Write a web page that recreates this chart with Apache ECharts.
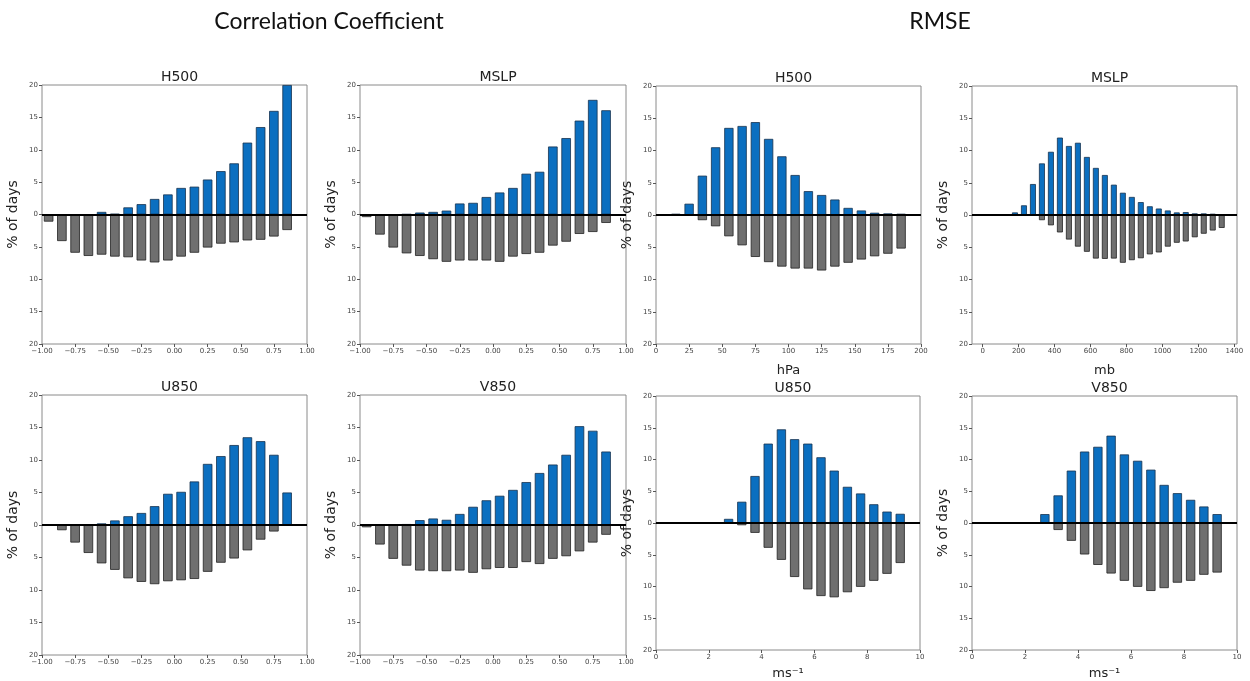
<!DOCTYPE html>
<html>
<head>
<meta charset="utf-8">
<script src="https://cdn.jsdelivr.net/npm/echarts@6/dist/echarts.min.js"></script>
<style>html,body{margin:0;padding:0;background:#fff}#c{width:1250px;height:681px}</style>
</head>
<body>
<div id="c"></div>
<script>
// ---- data ----
const corrBins = [-0.95,-0.85,-0.75,-0.65,-0.55,-0.45,-0.35,-0.25,-0.15,-0.05,0.05,0.15,0.25,0.35,0.45,0.55,0.65,0.75,0.85];
const corrTicks = [-1,-0.75,-0.5,-0.25,0,0.25,0.5,0.75,1];

const h500CorrBlue = [0,0,0,0,0.4,0.1,1.1,1.6,2.4,3.1,4.1,4.3,5.4,6.7,7.9,11.1,13.5,16.0,20.0];
const h500CorrGray = [1.1,4.1,5.9,6.4,6.2,6.5,6.6,7.1,7.4,7.1,6.5,5.9,5.1,4.5,4.3,4.0,3.9,3.4,2.4];

const mslpCorrBlue = [0,0,0,0.05,0.3,0.4,0.6,1.7,1.8,2.7,3.4,4.1,6.3,6.6,10.5,11.8,14.5,17.7,16.1];
const mslpCorrGray = [0.4,3.1,5.1,6.0,6.4,6.9,7.3,7.1,7.1,7.1,7.3,6.5,6.1,5.9,4.8,4.2,3.0,2.7,1.3];

const u850CorrBlue = [0,0,0,0,0.25,0.7,1.35,1.85,2.9,4.8,5.1,6.7,9.4,10.6,12.3,13.5,12.9,10.8,5.0];
const u850CorrGray = [0,0.8,2.7,4.3,5.9,6.9,8.2,8.75,9.1,8.65,8.5,8.3,7.2,5.8,5.15,3.9,2.25,1.0,0.05];

const v850CorrBlue = [0,0,0,0.15,0.75,1.0,0.8,1.7,2.8,3.8,4.5,5.4,6.6,8.0,9.3,10.8,15.2,14.5,11.3];
const v850CorrGray = [0.35,3.0,5.2,6.25,7.0,7.1,7.1,7.0,7.35,6.8,6.6,6.6,5.7,6.0,5.2,4.8,4.05,2.7,1.5];

const h500RmseBins = [15,25,35,45,55,65,75,85,95,105,115,125,135,145,155,165,175,185];
const h500RmseTicks = [0,25,50,75,100,125,150,175,200];
const h500RmseBlue = [0.2,1.75,6.1,10.5,13.5,13.8,14.4,11.8,9.1,6.2,3.7,3.1,2.4,1.1,0.7,0.35,0.25,0.2];
const h500RmseGray = [0,0,0.8,1.75,3.3,4.7,6.5,7.3,8.0,8.3,8.3,8.6,8.0,7.4,6.9,6.4,6.0,5.2];

const mslpRmseBins = [180,230,280,330,380,430,480,530,580,630,680,730,780,830,880,930,980,1030,1080,1130,1180,1230,1280,1330];
const mslpRmseTicks = [0,200,400,600,800,1000,1200,1400];
const mslpRmseBlue = [0.4,1.5,4.8,8.0,9.8,12.0,10.7,11.2,9.0,7.3,6.2,4.7,3.45,2.8,2.0,1.35,1.0,0.7,0.4,0.45,0.25,0.25,0.2,0];
const mslpRmseGray = [0,0,0.1,0.8,1.6,2.7,3.8,4.9,5.7,6.75,6.8,6.75,7.4,7.0,6.7,6.1,5.8,4.9,4.3,4.1,3.45,2.9,2.4,2.0];

const windRmseBins = [2.75,3.25,3.75,4.25,4.75,5.25,5.75,6.25,6.75,7.25,7.75,8.25,8.75,9.25];
const windRmseTicks = [0,2,4,6,8,10];
const u850RmseBlue = [0.65,3.35,7.4,12.5,14.75,13.2,12.5,10.35,8.25,5.7,4.65,2.95,1.8,1.45];
const u850RmseGray = [0,0.35,1.55,3.9,5.8,8.5,10.45,11.5,11.7,10.9,10.05,9.1,8.0,6.3];
const v850RmseBlue = [1.4,4.35,8.25,11.25,12.0,13.75,10.8,9.8,8.4,6.0,4.7,3.65,2.6,1.4];
const v850RmseGray = [0,1.1,2.8,4.95,6.6,7.95,9.1,10.05,10.7,10.25,9.4,9.1,8.15,7.8];

const yTicks = [-20,-15,-10,-5,0,5,10,15,20];

// ---- layout ----
const BLUE = '#0b6fc0', GRAY = '#6f6f6f';
const fmtCorr = v => (v < 0 ? '\u2212' : '') + Math.abs(v).toFixed(2);
const fmtInt = v => String(v);

const panels = [
  {title:'H500', g:[42,85,265,259], x:[-1,1], ticks:corrTicks, fmt:fmtCorr, bins:corrBins, blue:h500CorrBlue, gray:h500CorrGray, frac:0.72, step:0.1, xName:''},
  {title:'MSLP', g:[360,85,266,259], x:[-1,1], ticks:corrTicks, fmt:fmtCorr, bins:corrBins, blue:mslpCorrBlue, gray:mslpCorrGray, frac:0.72, step:0.1, xName:''},
  {title:'H500', g:[656,86,265,258], x:[0,200], ticks:h500RmseTicks, fmt:fmtInt, bins:h500RmseBins, blue:h500RmseBlue, gray:h500RmseGray, frac:0.7, step:10, xName:'hPa'},
  {title:'MSLP', g:[972,86,265,258], x:[-59,1415], ticks:mslpRmseTicks, fmt:fmtInt, bins:mslpRmseBins, blue:mslpRmseBlue, gray:mslpRmseGray, frac:0.66, step:50, xName:'mb'},
  {title:'U850', g:[42,395,265,260], x:[-1,1], ticks:corrTicks, fmt:fmtCorr, bins:corrBins, blue:u850CorrBlue, gray:u850CorrGray, frac:0.72, step:0.1, xName:''},
  {title:'V850', g:[360,395,266,260], x:[-1,1], ticks:corrTicks, fmt:fmtCorr, bins:corrBins, blue:v850CorrBlue, gray:v850CorrGray, frac:0.72, step:0.1, xName:''},
  {title:'U850', g:[656,396,264,258], x:[0,10], ticks:windRmseTicks, fmt:fmtInt, bins:windRmseBins, blue:u850RmseBlue, gray:u850RmseGray, frac:0.7, step:0.5, xName:'ms\u207B\u00B9'},
  {title:'V850', g:[972,396,265,258], x:[0,10], ticks:windRmseTicks, fmt:fmtInt, bins:windRmseBins, blue:v850RmseBlue, gray:v850RmseGray, frac:0.7, step:0.5, xName:'ms\u207B\u00B9'}
];

const grid = [], xAxis = [], yAxis = [], series = [];
const title = [
  {text:'Correlation Coefficient', left:324, top:5, textAlign:'center', textStyle:{fontFamily:'Lato', fontSize:23, fontWeight:'normal', color:'#111'}},
  {text:'RMSE', left:935, top:5, textAlign:'center', textStyle:{fontFamily:'Lato', fontSize:23, fontWeight:'normal', color:'#111'}}
];
const FONT = 'DejaVu Sans';

panels.forEach((p, i) => {
  const [l, t, w, h] = p.g;
  grid.push({left:l, top:t, width:w, height:h, show:true, borderColor:'#8a8a8a', borderWidth:1, backgroundColor:'transparent'});
  title.push({text:p.title, left:l + w/2, top:t - 20, textAlign:'center',
    textStyle:{fontFamily:FONT, fontSize:14, fontWeight:'normal', color:'#222'}});
  xAxis.push({type:'value', gridIndex:i, min:p.x[0], max:p.x[1], position:'bottom',
    name:p.xName, nameLocation:'middle', nameGap:p.xName === 'hPa' || p.xName === 'mb' ? 20 : 17,
    nameTextStyle:{fontFamily:FONT, fontSize:13, color:'#222'},
    axisLine:{show:false, onZero:false}, splitLine:{show:false},
    axisTick:{show:true, length:3, lineStyle:{color:'#555'}, customValues:p.ticks},
    axisLabel:{fontFamily:FONT, fontSize:7, color:'#444', margin:4, customValues:p.ticks, formatter:p.fmt}});
  yAxis.push({type:'value', gridIndex:i, min:-20, max:20, interval:5, position:'left',
    name:'% of days', nameLocation:'middle', nameGap:22, nameRotate:90,
    nameTextStyle:{fontFamily:FONT, fontSize:14, color:'#222'},
    axisLine:{show:false, onZero:false}, splitLine:{show:false},
    axisTick:{show:true, length:3, lineStyle:{color:'#555'}, customValues:yTicks},
    axisLabel:{fontFamily:FONT, fontSize:7, color:'#444', margin:4, customValues:yTicks, formatter:v => String(Math.abs(v))}});
  const bw = Math.max(2, p.frac * p.step * w / (p.x[1] - p.x[0]));
  series.push({type:'bar', xAxisIndex:i, yAxisIndex:i, barWidth:bw, barGap:'-100%',
    data:p.bins.map((x, k) => [x, -p.gray[k]]),
    itemStyle:{color:GRAY, borderColor:'#222', borderWidth:0.8}, silent:true, animation:false});
  series.push({type:'bar', xAxisIndex:i, yAxisIndex:i, barWidth:bw, barGap:'-100%',
    data:p.bins.map((x, k) => [x, p.blue[k]]),
    itemStyle:{color:BLUE, borderColor:'#17324f', borderWidth:0.8}, silent:true, animation:false,
    markLine:{silent:true, symbol:['none','none'], label:{show:false}, animation:false,
      lineStyle:{color:'#000', width:2, type:'solid'}, data:[{yAxis:0}]}});
});

const chart = echarts.init(document.getElementById('c'), null, {renderer:'canvas'});
chart.setOption({backgroundColor:'#fff', animation:false, title, grid, xAxis, yAxis, series});
</script>
</body>
</html>
